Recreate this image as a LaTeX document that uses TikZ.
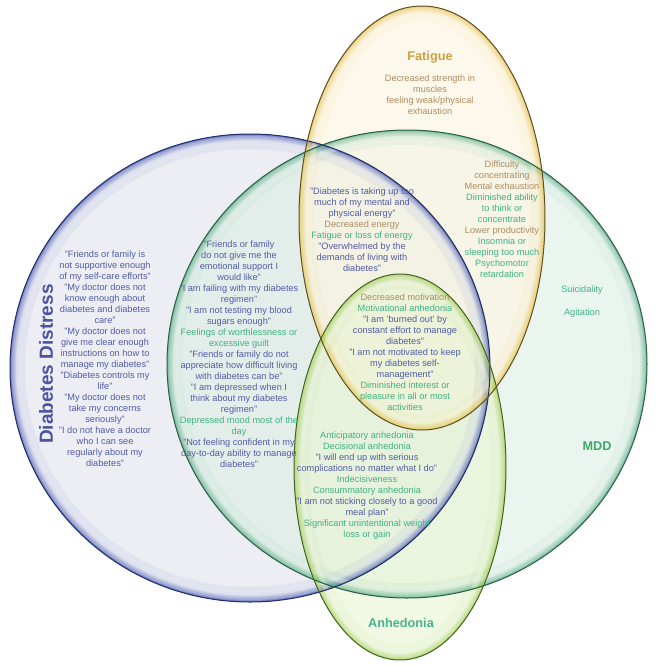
\documentclass[tikz,border=0pt]{standalone}
\usepackage{fontspec}
\setmainfont{Liberation Sans}
\definecolor{ddtext}{RGB}{82,92,164}
\definecolor{grtext}{RGB}{64,178,130}
\definecolor{tntext}{RGB}{176,140,96}
\definecolor{fattitle}{RGB}{204,162,64}
\definecolor{mddtitle}{RGB}{62,168,104}
\definecolor{anhtitle}{RGB}{70,180,140}
\definecolor{ddtitle}{RGB}{74,84,160}
\definecolor{ddfill}{RGB}{236,238,244}
\definecolor{ddrim}{RGB}{60,80,175}
\definecolor{ddborder}{RGB}{35,45,105}
\definecolor{mddfill}{RGB}{222,238,230}
\definecolor{mddrim}{RGB}{80,170,128}
\definecolor{mddborder}{RGB}{45,95,72}
\definecolor{fatfill}{RGB}{252,245,226}
\definecolor{fatrim}{RGB}{232,192,70}
\definecolor{fatborder}{RGB}{92,80,40}
\definecolor{anhfill}{RGB}{232,245,210}
\definecolor{anhrim}{RGB}{160,205,85}
\definecolor{anhborder}{RGB}{70,100,40}
\newcommand{\colB}[1]{\textcolor{ddtext}{#1}}
\newcommand{\colG}[1]{\textcolor{grtext}{#1}}
\newcommand{\colT}[1]{\textcolor{tntext}{#1}}
\newcommand\glowell[4]{%
 \begin{scope}
 \clip #1 ellipse [x radius=#2, y radius=#3];
 \foreach \ww/\oo in {30/0.06,20/0.09,13/0.13,8/0.18,4/0.28,2/0.4}{
   \draw[#4, line width=\ww pt, opacity=\oo] #1 ellipse [x radius=#2, y radius=#3];
 }
 \draw[white, line width=5pt, opacity=0.3] #1 ellipse [x radius=#2-8pt, y radius=#3-8pt];
 \end{scope}}
\tikzset{
 txt/.style={align=center, font=\fontsize{9.2}{11}\selectfont, inner sep=0pt, anchor=north},
 ttl/.style={font=\fontsize{12.7}{14}\selectfont\bfseries, inner sep=0pt, anchor=center}
}
\begin{document}
\begin{tikzpicture}[x=1pt,y=-1pt]
\useasboundingbox (0,0) rectangle (661,665);
% fills
\fill[ddfill] (250,368) ellipse [x radius=240pt, y radius=234pt];
\fill[mddfill, opacity=0.6] (407,364) ellipse [x radius=240pt, y radius=234pt];
\fill[fatfill, opacity=0.65] (422,218) ellipse [x radius=123pt, y radius=212pt];
\fill[anhfill, opacity=0.6] (400,467) ellipse [x radius=106pt, y radius=193pt];
% glows
\glowell{(250,368)}{240pt}{234pt}{ddrim}
\glowell{(407,364)}{240pt}{234pt}{mddrim}
\glowell{(422,218)}{123pt}{212pt}{fatrim}
\glowell{(400,467)}{106pt}{193pt}{anhrim}
% borders
\draw[ddborder, line width=1pt] (250,368) ellipse [x radius=240pt, y radius=234pt];
\draw[mddborder, line width=1pt] (407,364) ellipse [x radius=240pt, y radius=234pt];
\draw[fatborder, line width=1pt] (422,218) ellipse [x radius=123pt, y radius=212pt];
\draw[anhborder, line width=1pt] (400,467) ellipse [x radius=106pt, y radius=193pt];
% titles
\node[ttl, text=fattitle] (tfat) at (430,57) {Fatigue};
\node[ttl, text=mddtitle] (tmdd) at (597,446) {MDD};
\node[ttl, text=anhtitle] (tanh) at (401,623) {Anhedonia};
\node[ttl, text=ddtitle, rotate=90, font=\fontsize{19}{21}\selectfont\bfseries] (tdd) at (46,364) {Diabetes Distress};
% text blocks
\node[txt] (fat) at (430,74.5) {\colT{Decreased strength in}\\\colT{muscles}\\\colT{feeling weak/physical}\\\colT{exhaustion}};
\node[txt] (rt) at (502,160.5) {\colT{Difficulty}\\\colT{concentrating}\\\colT{Mental exhaustion}\\\colG{Diminished ability}\\\colG{to think or}\\\colG{concentrate}\\\colT{Lower productivity}\\\colG{Insomnia or}\\\colG{sleeping too much}\\\colG{Psychomotor}\\\colG{retardation}};
\node[txt] (sui) at (582,285.5) {\colG{Suicidality}};
\node[txt] (agi) at (582,308.5) {\colG{Agitation}};
\node[txt] (dd) at (105,250.5) {\colB{"Friends or family is}\\\colB{not supportive enough}\\\colB{of my self-care efforts"}\\\colB{"My doctor does not}\\\colB{know enough about}\\\colB{diabetes and diabetes}\\\colB{care"}\\\colB{"My doctor does not}\\\colB{give me clear enough}\\\colB{instructions on how to}\\\colB{manage my diabetes"}\\\colB{"Diabetes controls my}\\\colB{life"}\\\colB{"My doctor does not}\\\colB{take my concerns}\\\colB{seriously"}\\\colB{"I do not have a doctor}\\\colB{who I can see}\\\colB{regularly about my}\\\colB{diabetes"}};
\node[txt] (ml) at (239,240.5) {\colB{"Friends or family}\\\colB{do not give me the}\\\colB{emotional support I}\\\colB{would like"}\\\colB{"I am failing with my diabetes}\\\colB{regimen"}\\\colB{"I am not testing my blood}\\\colB{sugars enough"}\\\colG{Feelings of worthlessness or}\\\colG{excessive guilt}\\\colB{"Friends or family do not}\\\colB{appreciate how difficult living}\\\colB{with diabetes can be"}\\\colB{"I am depressed when I}\\\colB{think about my diabetes}\\\colB{regimen"}\\\colG{Depressed mood most of the}\\\colG{day}\\\colB{"Not feeling confident in my}\\\colB{day-to-day ability to manage}\\\colB{diabetes"}};
\node[txt] (tc) at (362,187.5) {\colB{"Diabetes is taking up too}\\\colB{much of my mental and}\\\colB{physical energy"}\\\colT{Decreased energy}\\\colG{Fatigue or loss of energy}\\\colB{"Overwhelmed by the}\\\colB{demands of living with}\\\colB{diabetes"}};
\node[txt] (cm) at (405,293.5) {\colT{Decreased motivation}\\\colG{Motivational anhedonia}\\\colB{"I am 'burned out' by}\\\colB{constant effort to manage}\\\colB{diabetes"}\\\colB{"I am not motivated to keep}\\\colB{my diabetes self-}\\\colB{management"}\\\colG{Diminished interest or}\\\colG{pleasure in all or most}\\\colG{activities}};
\node[txt] (bt) at (367,431.5) {\colG{Anticipatory anhedonia}\\\colG{Decisional anhedonia}\\\colB{"I will end up with serious}\\\colB{complications no matter what I do"}\\\colG{Indecisiveness}\\\colG{Consummatory anhedonia}\\\colB{"I am not sticking closely to a good}\\\colB{meal plan"}\\\colG{Significant unintentional weight}\\\colG{loss or gain}};
\end{tikzpicture}
\end{document}
